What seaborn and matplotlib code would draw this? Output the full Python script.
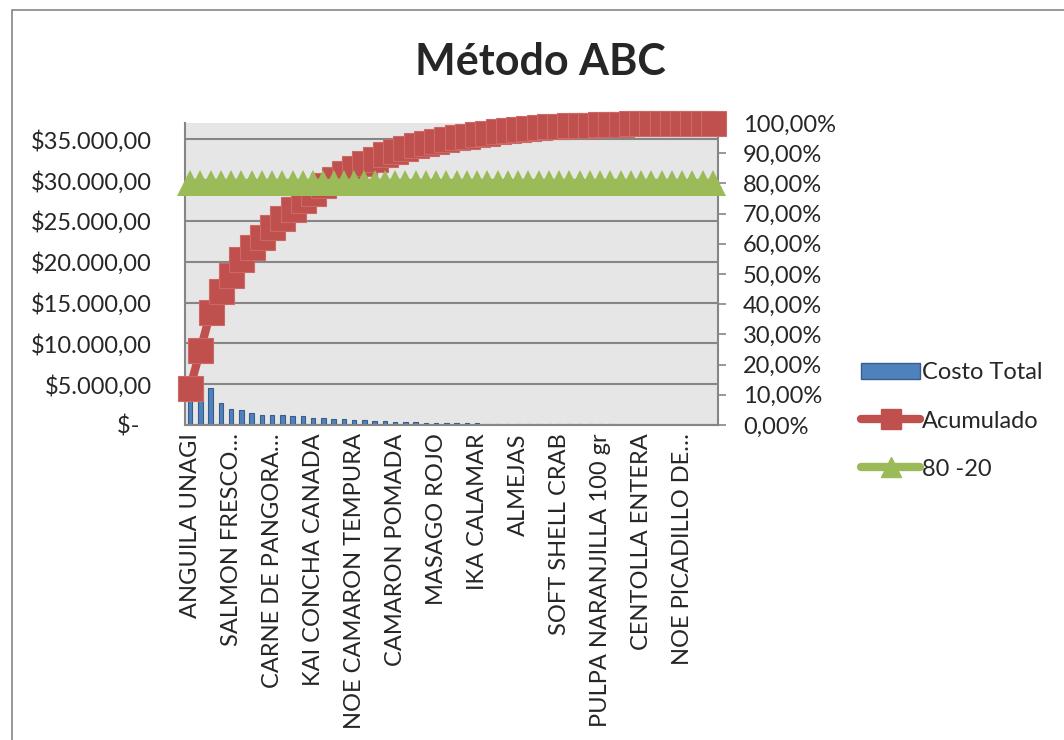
import numpy as np
import pandas as pd
import matplotlib
matplotlib.use('Agg')
import matplotlib.pyplot as plt
import seaborn as sns
from matplotlib.patches import Patch, Rectangle
from matplotlib.lines import Line2D

# datos (52 productos, ordenados de mayor a menor costo)
costo_total = [4620, 4600, 4490, 2650, 1920, 1840, 1510, 1225, 1185, 1185,
               1140, 1100, 900, 860, 775, 695, 650, 650, 530, 490,
               410, 370, 370, 285, 245, 245, 245, 200, 200, 165,
               145, 145, 145, 120, 100, 85, 80, 80, 75, 70,
               70, 65, 60, 60, 20, 15, 12, 10, 8, 6, 4, 2]

acumulado = [0.124, 0.248, 0.374, 0.445, 0.497, 0.549, 0.590, 0.624, 0.654, 0.686,
             0.715, 0.744, 0.768, 0.795, 0.816, 0.834, 0.852, 0.868, 0.882, 0.896,
             0.907, 0.917, 0.926, 0.934, 0.941, 0.947, 0.953, 0.958, 0.963, 0.968,
             0.972, 0.976, 0.980, 0.983, 0.986, 0.9885, 0.9905, 0.9925, 0.994, 0.995,
             0.996, 0.997, 0.9978, 0.9984, 0.9989, 0.9993, 0.9996, 0.9998, 0.9999, 1.0,
             1.0, 1.0]

ochenta_veinte = [0.80] * 52

# solo se ve una etiqueta cada 4 productos
etiquetas = ['ANGUILA UNAGI', 'SALMON FRESCO…', 'CARNE DE PANGORA…',
             'KAI CONCHA CANADA', 'NOE CAMARON TEMPURA', 'CAMARON POMADA',
             'MASAGO ROJO', 'IKA CALAMAR', 'ALMEJAS', 'SOFT SHELL CRAB',
             'PULPA NARANJILLA 100 gr', 'CENTOLLA ENTERA', 'NOE PICADILLO DE…']
cada = 4

df = pd.DataFrame({'pos': np.arange(len(costo_total)),
                   'Costo Total': costo_total,
                   'Acumulado': acumulado,
                   '80 -20': ochenta_veinte})

sns.set_style('white')
plt.rcParams['font.family'] = ['Lato', 'DejaVu Sans']

azul = '#4F81BD'
rojo = '#C0504D'
verde = '#9BBB59'
gris = '#868686'
fs = 17

fig = plt.figure(figsize=(10.64, 7.4), dpi=100)
ax = fig.add_axes([185/1064, 1-425/740, (718-185)/1064, (425-123)/740])
ax.set_facecolor('#E6E6E6')

# borde del area del grafico (solo se ve izquierda y arriba)
fig.patches.append(Rectangle((12/1064, -0.2), 1.2, 1.2 - 10/740, transform=fig.transFigure,
                             fill=False, edgecolor=gris, linewidth=1.2))

sns.barplot(data=df, x='pos', y='Costo Total', ax=ax, color=azul, saturation=1,
            width=0.45, edgecolor='#385D8A', linewidth=0.8)
ax.set_xlim(-0.5, len(costo_total) - 0.5)
ax.set_ylim(0, 37000)
ax.set_yticks(np.arange(0, 35001, 5000))
ax.set_yticklabels(['$-  '] + ['$' + f'{v:,.2f}'.replace(',', 'X').replace('.', ',').replace('X', '.')
                               for v in np.arange(5000, 35001, 5000)], fontsize=fs)
ax.yaxis.grid(True, color=gris, linewidth=1.5)
ax.set_axisbelow(True)
ax.set_xticks(np.arange(0, len(costo_total), cada))
ax.set_xticklabels(etiquetas, rotation=90, fontsize=fs)
ax.set_xlabel('')
ax.set_ylabel('')
ax.tick_params(axis='y', length=0, pad=24)
ax.tick_params(axis='x', length=0, pad=6)
for s in ['left', 'bottom', 'right']:
    ax.spines[s].set_color(gris)
    ax.spines[s].set_linewidth(1.5)
ax.spines['top'].set_visible(False)

ax2 = ax.twinx()
sns.lineplot(data=df, x='pos', y='Acumulado', ax=ax2, color=rojo, linewidth=6,
             marker='s', markersize=18, markeredgecolor='#CC6966', markeredgewidth=0.8,
             clip_on=False, zorder=3)
sns.lineplot(data=df, x='pos', y='80 -20', ax=ax2, color=verde, linewidth=6,
             marker='^', markersize=19, markeredgecolor=verde, markeredgewidth=0,
             clip_on=False, zorder=4)
ax2.set_ylim(0, 1)
ax2.set_yticks(np.arange(0, 1.001, 0.1))
ax2.set_yticklabels([f'{v*100:.2f}%'.replace('.', ',') for v in np.arange(0, 1.001, 0.1)], fontsize=fs)
ax2.set_ylabel('')
ax2.tick_params(axis='y', length=6, width=1.2, color=gris, pad=12, direction='out')
for s in ['left', 'bottom', 'right', 'top']:
    ax2.spines[s].set_visible(False)
ax2.set_xlim(-0.5, len(costo_total) - 0.5)

fig.text(540/1064, 1-62/740, 'Método ABC', fontsize=31, fontweight='bold',
         ha='center', va='center')

handles = [Patch(facecolor=azul, edgecolor='#385D8A'),
           Line2D([], [], color=rojo, linewidth=6, marker='s', markersize=14),
           Line2D([], [], color=verde, linewidth=6, marker='^', markersize=14)]
fig.legend(handles, ['Costo Total', 'Acumulado', '80 -20'], loc='center left',
           bbox_to_anchor=(861/1064, 1-421/740), frameon=False, fontsize=fs,
           handlelength=2.5, handletextpad=0.1, labelspacing=1.15,
           borderaxespad=0, borderpad=0)

fig.savefig('out.png', dpi=100)
